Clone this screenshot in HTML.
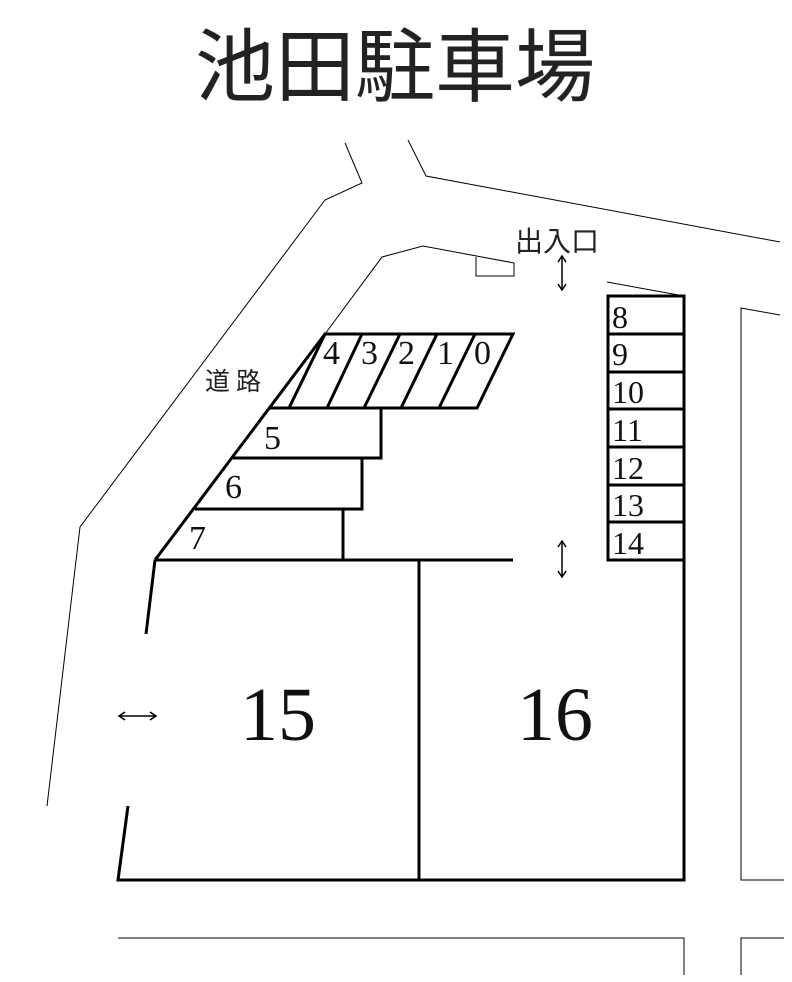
<!DOCTYPE html>
<html><head><meta charset="utf-8"><style>
body{margin:0;background:#fff;}
svg{display:block}
.s{font-family:"Liberation Serif",serif;fill:#111}
.j{font-family:"Liberation Sans","Noto Sans CJK JP",sans-serif;fill:#222}
</style></head><body>
<svg width="792" height="982" viewBox="0 0 792 982" xmlns="http://www.w3.org/2000/svg">
<text class="j" x="395" y="95" font-size="80" text-anchor="middle">池田駐車場</text>
<g fill="none" stroke="#000" stroke-width="1">
<polyline points="345,143 362,183 325,200 80,527 47,806"/>
<polyline points="408,140 426,176 780,242"/>
<polyline points="325,334 382,257 423,246 514,263 514,276 476,276 476,257"/>
<polyline points="607,282 684,296"/>
<polyline points="780,315 741,308 741,880 784,880"/>
<polyline points="118,938 684,938 684,975"/>
<polyline points="784,938 741,938 741,975"/>
</g>
<g fill="none" stroke="#000" stroke-width="3">
<polygon points="325,334 513,334 477,408 289,408"/>
<line x1="362" y1="334" x2="327" y2="408"/><line x1="400" y1="334" x2="364" y2="408"/>
<line x1="437" y1="334" x2="401" y2="408"/><line x1="475" y1="334" x2="439" y2="408"/>
<polyline points="325,334 155,560"/>
<polyline points="270,408 381,408 381,458 233,458"/>
<polyline points="233,458 362,458 362,509 195,509"/>
<polyline points="343,509 343,560"/>
<polyline points="155,560 513,560"/>
<rect x="608" y="296" width="76" height="264"/>
<line x1="608" y1="334" x2="684" y2="334"/><line x1="608" y1="372" x2="684" y2="372"/>
<line x1="608" y1="409" x2="684" y2="409"/><line x1="608" y1="447" x2="684" y2="447"/>
<line x1="608" y1="485" x2="684" y2="485"/><line x1="608" y1="522" x2="684" y2="522"/>
<polyline points="684,560 684,880 118,880 128,806"/>
<line x1="419" y1="560" x2="419" y2="880"/>
<line x1="155" y1="560" x2="146" y2="634"/>
</g>
<g stroke="#000" stroke-width="1.5" fill="none">
<line x1="562" y1="257" x2="562" y2="289"/><polyline points="558,262 562,256 566,262"/><polyline points="558,284 562,290 566,284"/>
<line x1="562" y1="542" x2="562" y2="576"/><polyline points="558,547 562,541 566,547"/><polyline points="558,571 562,577 566,571"/>
<line x1="120" y1="716" x2="155" y2="716"/><polyline points="125,712 119,716 125,720"/><polyline points="150,712 156,716 150,720"/>
</g>
<text class="j" x="515" y="251" font-size="28">出入口</text>
<text class="j" x="205" y="390" font-size="25" letter-spacing="6">道路</text>
<g class="s" font-size="34">
<text x="323" y="364">4</text><text x="361" y="364">3</text><text x="398" y="364">2</text><text x="437" y="364">1</text><text x="474" y="364">0</text>
<text x="264" y="449">5</text><text x="225" y="498">6</text><text x="189" y="549">7</text>
</g>
<g class="s" font-size="32">
<text x="612" y="328">8</text><text x="612" y="365">9</text><text x="612" y="403">10</text>
<text x="612" y="441">11</text><text x="612" y="479">12</text><text x="612" y="516">13</text><text x="612" y="554">14</text>
</g>
<text class="s" x="278" y="740" font-size="76" text-anchor="middle">15</text>
<text class="s" x="555" y="740" font-size="76" text-anchor="middle">16</text>
</svg>
</body></html>
